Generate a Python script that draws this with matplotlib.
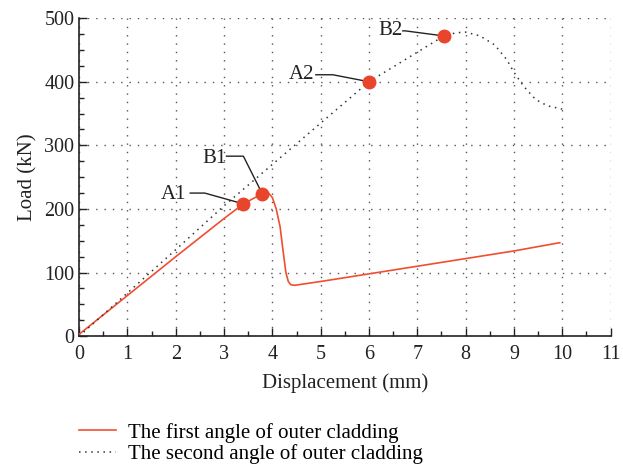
import matplotlib
matplotlib.use("Agg")
import matplotlib.pyplot as plt
from matplotlib.ticker import MultipleLocator

plt.rcParams['font.family'] = ['Liberation Serif', 'DejaVu Serif']

# Data
x1 = [0, 1.0, 2.0, 3.0, 3.4, 3.79, 3.91, 4.0, 4.08, 4.16, 4.22, 4.28, 4.33, 4.38, 4.46, 5, 6, 7, 8, 9, 9.95]
y1 = [3, 64, 125, 185, 208, 224, 226, 218, 200, 172, 135, 100, 86, 81, 80, 86, 98, 110, 122, 134, 147]

x2 = [0, 2, 3, 6, 7.55, 7.8, 8.0, 8.3, 8.6, 8.85, 9.0, 9.2, 9.45, 9.7, 10.0]
y2 = [0, 136, 205, 400, 472, 477, 478, 472, 458, 435, 415, 393, 372, 362, 357]

pt_labels = ['A1', 'B1', 'A2', 'B2']
pt_x = [3.4, 3.79, 6.0, 7.55]
pt_y = [208, 224, 400, 472]

series_labels = ['The first angle of outer cladding', 'The second angle of outer cladding']

fig = plt.figure(figsize=(6.23, 4.65), dpi=100)
ax = fig.add_axes([0.127, 0.277, 0.853, 0.684])

red = '#F04E30'
l1, = ax.plot(x1, y1, color=red, lw=1.2, label=series_labels[0], zorder=3)
l2, = ax.plot(x2, y2, color='#333333', lw=1.1, linestyle=(0, (1, 3)), label=series_labels[1], zorder=3)
ax.plot(pt_x, pt_y, 'o', color='#E8452C', markersize=9, zorder=5)

# annotation label positions and leader-line elbows (data coords)
text_pos = [(1.95, 222), (2.8, 280), (4.6, 412), (6.45, 480)]
start = [(2.3, 225), (3.05, 283), (4.9, 411), (6.7, 480)]
elbow = [(2.6, 225), (3.4, 283), (5.25, 411), (6.75, 480)]
endfrac = [0.85, 0.88, 0.85, 0.9]
for lab, (tx, ty), (sx, sy), (ex, ey), f, px, py in zip(pt_labels, text_pos, start, elbow, endfrac, pt_x, pt_y):
    ax.text(tx, ty, lab, fontsize=15, ha='center', va='center', color='#222222')
    qx = ex + f * (px - ex)
    qy = ey + f * (py - ey)
    ax.plot([sx, ex, qx], [sy, ey, qy], color='#222222', lw=1.0, zorder=4)

ax.set_xlim(0, 11)
ax.set_ylim(0, 500)
ax.xaxis.set_major_locator(MultipleLocator(1))
ax.xaxis.set_minor_locator(MultipleLocator(0.5))
ax.yaxis.set_major_locator(MultipleLocator(100))
ax.yaxis.set_minor_locator(MultipleLocator(25))
ax.tick_params(which='both', direction='in', labelsize=14.5, colors='#222222')
ax.tick_params(axis='x', which='major', pad=6)
ax.tick_params(which='major', length=6, width=1)
ax.tick_params(which='minor', length=3.5, width=1)
for s in ['top', 'right']:
    ax.spines[s].set_visible(False)
for s in ['left', 'bottom']:
    ax.spines[s].set_linewidth(1.2)
    ax.spines[s].set_color('#222222')
ax.grid(True, which='major', color='#555555', linestyle=(0, (1, 5)), linewidth=1.0)
ax.set_xlabel('Displacement (mm)', fontsize=15, color='#222222', labelpad=7)
ax.set_ylabel('Load (kN)', fontsize=15, color='#222222', labelpad=5)

fig.legend([l1, l2], series_labels, loc='upper left', bbox_to_anchor=(0.127, 0.091),
           frameon=False, fontsize=15, handlelength=1.75, handletextpad=0.6, labelspacing=0.08,
           borderpad=0, borderaxespad=0)

fig.savefig('out.png', dpi=100)
